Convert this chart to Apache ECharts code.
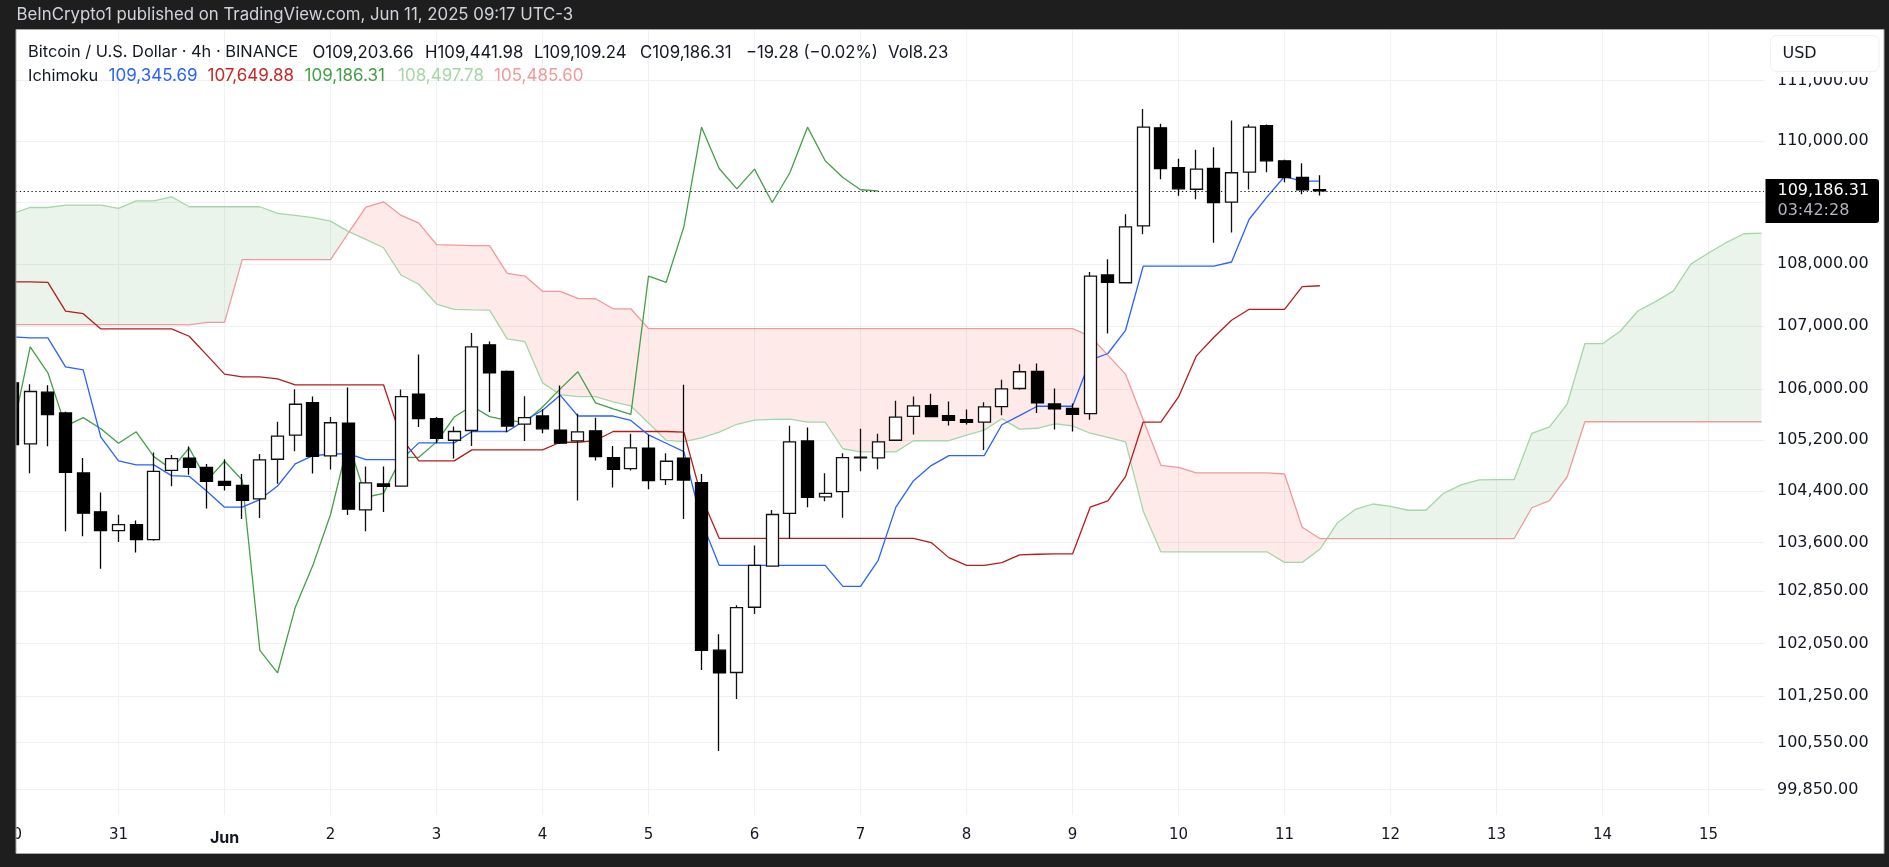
<!DOCTYPE html>
<html>
<head>
	<meta charset="utf-8" />
	<title>BTC/USD 4h Ichimoku</title>
	<style type="text/css">
	*{margin: 0;padding: 0;}
	html,body{background: #1e1e1e;}
	#chart{width: 1889px;height: 867px;}
	</style>
</head>
<body>
<div id="chart"></div>
<script src="https://cdn.jsdelivr.net/npm/echarts@6/dist/echarts.min.js"></script>
<script type="text/javascript">
	// every array starts at bar index -6, bar 0 is the "31" gridline, 6 bars a day
	var firstBar = -6;
	var candleOpen = [106100,105137,105952,105624,104682,104077,103784,103877,103646,104724,104912,104771,104551,104489,104277,104897,105274,105788,104949,105465,104108,104510,104478,105920,105534,105195,105348,106704,106281,105449,105576,105354,105184,105343,104923,104750,105069,104578,104912,104531,101949,101609,102604,103237,104051,105184,104308,104390,104918,104918,105195,105571,105740,105581,105518,105480,105724,106011,106281,105767,105698,105613,107823,107698,108616,110219,109563,109212,109551,109001,109490,110252,109677,109404,109203.66];
	var candleClose = [105127,105963,105597,104693,104056,103784,103877,103646,104708,104907,104771,104551,104489,104256,104886,105258,105762,104944,105470,104118,104526,104473,105883,105534,105226,105332,106672,106260,105417,105550,105375,105148,105327,104938,104740,105074,104562,104865,104572,101944,101602,102599,103248,104035,105169,104303,104364,104923,104928,105169,105560,105735,105566,105507,105475,105719,106005,106276,105783,105688,105603,107806,107705,108600,110229,109551,109219,109540,108996,109481,110229,109677,109404,109204,109186.31];
	var candleLow = [105000,104677,105101,103774,103697,103197,103610,103445,103626,104473,104656,104128,104410,103964,103979,104515,105022,104672,104735,104026,103774,104072,104478,105401,105148,104907,105106,105640,105322,105184,105306,105137,104251,104876,104457,104719,104426,104494,103964,101647,100426,101209,102501,103233,103661,104149,104241,103984,104708,104740,105184,105285,105560,105428,105444,105043,105587,105989,105624,105364,105332,105518,106884,107690,108480,109376,109105,109049,108345,108507,109207,109490,109327,109130,109109.24];
	var candleHigh = [106180,106079,106063,105645,104918,104379,104031,103943,105001,104965,105095,104823,104897,104666,104980,105486,106000,105883,105560,106026,104782,104782,105995,106550,105560,105411,106894,106757,106296,105889,105682,106058,105613,105550,105106,105295,105279,104991,106070,104666,102193,102635,103554,104103,105422,105396,104677,104991,105375,105295,105815,105883,105926,105804,105677,105793,106148,106397,106408,106011,105772,107871,108075,108805,110530,110285,109710,109857,109900,110340,110274,110274,109694,109638,109441.98];
	var tenkan = [106831,106815,106815,106354,106307,105242,104871,104808,104808,104641,104630,104395,104149,104149,104267,104478,104823,104954,104975,104986,104891,104891,104891,105153,105153,105153,105332,105332,105332,105507,105666,105905,105576,105576,105576,105507,105279,105148,105017,103928,103248,103248,103248,103248,103248,103248,103248,102923,102923,103326,104149,104562,104797,104954,104954,104954,105438,105581,105730,105730,105730,106460,106566,106936,107964,107964,107964,107964,107964,108032,108724,109083,109420,109343,109345.69];
	var kijun = [107713,107713,107703,107243,107201,106958,106958,106958,106958,106958,106841,106540,106238,106196,106196,106164,106069,106069,106069,106069,106069,106069,105232,104871,104871,104871,105043,105043,105043,105043,105043,105163,105163,105190,105332,105332,105332,105332,105322,104303,103666,103666,103666,103666,103666,103666,103666,103666,103666,103666,103666,103666,103600,103367,103248,103248,103290,103409,103419,103424,103424,104149,104246,104625,105481,105481,105878,106524,106825,107097,107272,107272,107272,107635,107649.88];
	var chikou = [105332,106672,106260,105417,105550,105375,105148,105327,104938,104740,105074,104562,104865,104572,101944,101602,102599,103248,104035,105169,104303,104364,104923,104928,105169,105560,105735,105566,105507,105475,105719,106005,106276,105783,105688,105603,107806,107705,108600,110229,109551,109219,109540,108996,109481,110229,109677,109404,109204,109186.31];
	var senkouA = [108813,108915,108915,108953,108953,108953,108899,109024,109024,109089,108927,108927,108927,108927,108927,108818,108786,108749,108694,108527,108397,108262,107818,107673,107356,107272,107264,107259,106798,106754,106100,105915,105883,105883,105800,105735,105467,105194,105172,105232,105321,105446,105512,105522,105527,105480,105480,105061,105012,105012,105012,105187,105187,105187,105275,105354,105534,105369,105383,105454,105420,105305,105240,105170,104090,103457,103457,103457,103457,103457,103457,103457,103294,103294,103496,103907,104114,104198,104160,104101,104101,104364,104495,104575,104577,104577,105304,105406,105765,106722,106722,106921,107244,107394,107564,107998,108177,108346,108489,108497.78];
	var senkouB = [107026,107026,107026,107026,107026,107026,107026,107026,107026,107026,107021,107063,107063,108070,108070,108070,108070,108070,108070,108497,108920,109008,108786,108662,108312,108306,108295,108295,107850,107806,107560,107560,107447,107441,107280,107280,106963,106963,106963,106963,106963,106963,106963,106963,106963,106963,106963,106963,106963,106963,106963,106963,106963,106963,106963,106963,106963,106963,106963,106963,106963,106841,106540,106238,105517,104802,104771,104682,104682,104682,104682,104682,104666,103836,103662,103662,103662,103662,103662,103662,103662,103662,103662,103662,103662,103662,104140,104250,104623,105485.6,105485.6,105485.6,105485.6,105485.6,105485.6,105485.6,105485.6,105485.6,105485.6,105485.6];
	var lastPrice = 109186.31;

	var dayBars = [-6,0,6,12,18,24,30,36,42,48,54,60,66,72,78,84,90];
	var dayLabels = ['30','31','Jun','2','3','4','5','6','7','8','9','10','11','12','13','14','15'];
	var priceTicks = [111000,110000,109000,108000,107000,106000,105200,104400,103600,102850,102050,101250,100550,99850];

	var headerLine1 = [
		['Bitcoin / U.S. Dollar · 4h · BINANCE', 28, '#131722', 16.4],
		['O109,203.66', 312.5, '#131722', 16.8],
		['H109,441.98', 425, '#131722', 16.8],
		['L109,109.24', 534, '#131722', 16.8],
		['C109,186.31', 640, '#131722', 16.8],
		['−19.28 (−0.02%)', 746, '#131722', 16.6],
		['Vol8.23', 888, '#131722', 16.8]
	];
	var headerLine2 = [
		['Ichimoku', 28, '#131722', 16.4],
		['109,345.69', 108.5, '#2962FF', 17],
		['107,649.88', 207.5, '#C62828', 17],
		['109,186.31', 304.5, '#43A047', 17],
		['108,497.78', 398, '#A5D6A7', 17],
		['105,485.60', 494, '#EF9A9A', 17]
	];

	var FONT = 'Inter, "Noto Sans", sans-serif';
	var SCALE_FONT = '"DejaVu Sans", sans-serif';

	function withBars(arr) {
		return arr.map(function(v, k) { return [k + firstBar, v]; });
	}

	// cloud between the two senkou spans, one polygon per green/red stretch
	function renderCloud(params, api) {
		var children = [], upper = [], lower = [], rising = senkouA[0] >= senkouB[0];
		function flush() {
			children.push({
				type: 'polygon',
				shape: {points: upper.concat(lower.slice().reverse())},
				style: {fill: rising ? 'rgba(67,160,71,0.115)' : 'rgba(244,67,54,0.115)'},
				silent: true
			});
			upper = [];
			lower = [];
		}
		for (var k = 0; k < senkouA.length; k++) {
			var a = api.coord([k + firstBar, senkouA[k]]);
			var b = api.coord([k + firstBar, senkouB[k]]);
			var nowRising = senkouA[k] >= senkouB[k];
			if (k > 0 && nowRising != rising) {
				var pa = upper[upper.length - 1], pb = lower[lower.length - 1];
				var d0 = pa[1] - pb[1], d1 = a[1] - b[1];
				var t = d0 / (d0 - d1);
				var cross = [pa[0] + (a[0] - pa[0]) * t, pa[1] + (a[1] - pa[1]) * t];
				upper.push(cross);
				lower.push(cross);
				flush();
				upper.push(cross);
				lower.push(cross);
				rising = nowRising;
			}
			upper.push(a);
			lower.push(b);
		}
		flush();
		return {type: 'group', children: children};
	}

	function lineSeries(name, arr, color, z) {
		return {
			name: name,
			type: 'line',
			data: withBars(arr),
			showSymbol: false,
			silent: true,
			z: z,
			lineStyle: {color: color, width: 1.3}
		};
	}

	function textEl(text, x, y, color, size, family) {
		return {
			type: 'text',
			z: 110,
			silent: true,
			style: {text: text, x: x, y: y, fill: color, font: 'normal ' + size + 'px ' + (family || FONT), textVerticalAlign: 'middle'}
		};
	}

	function rectEl(x, y, w, h, fill, z, r, stroke) {
		return {
			type: 'rect',
			z: z,
			silent: true,
			shape: {x: x, y: y, width: w, height: h, r: r || 0},
			style: {fill: fill, stroke: stroke || null, lineWidth: stroke ? 1 : 0}
		};
	}

	var graphics = [
		// masks the top axis label, then the dark frame round the panel
		rectEl(1765, 30, 119, 47, '#ffffff', 100),
		rectEl(1770.5, 35.5, 108.5, 36, '#ffffff', 101, 6, '#eef0f3'),
		rectEl(1765.5, 179, 113.5, 44, '#000000', 101, [0, 3, 3, 0]),
		rectEl(0, 0, 1889, 30, '#1e1e1e', 105),
		rectEl(0, 853, 1889, 14, '#1e1e1e', 105),
		rectEl(0, 0, 16, 867, '#1e1e1e', 105),
		rectEl(1884, 0, 5, 867, '#1e1e1e', 105),
		rectEl(16, 29.5, 1868, 824, 'transparent', 106, 0, '#a8a8a8'),
		textEl('BeInCrypto1 published on TradingView.com, Jun 11, 2025 09:17 UTC-3', 16.5, 15, '#d1d4dc', 16.8),
		textEl('USD', 1782.5, 53.5, '#131722', 16, SCALE_FONT),
		textEl('109,186.31', 1777.5, 191, '#ffffff', 16, SCALE_FONT),
		textEl('03:42:28', 1777.5, 210.5, '#b2b5bd', 16, SCALE_FONT)
	];
	headerLine1.forEach(function(h) { graphics.push(textEl(h[0], h[1], 52.5, h[2], h[3])); });
	headerLine2.forEach(function(h) { graphics.push(textEl(h[0], h[1], 76, h[2], h[3])); });

	var option = {
		backgroundColor: '#ffffff',
		animation: false,
		grid: {left: 0, right: 125, top: 30, bottom: 52},
		xAxis: {
			type: 'value',
			min: -6.695,
			max: 93.14,
			axisLine: {show: false},
			axisTick: {show: false, customValues: dayBars},
			splitLine: {show: true, lineStyle: {color: '#f0f1f3', width: 1}},
			axisLabel: {
				customValues: dayBars,
				margin: 13,
				color: '#131722',
				fontFamily: SCALE_FONT,
				fontSize: 15,
				formatter: function(v) {
					var s = dayLabels[dayBars.indexOf(v)];
					return s == 'Jun' ? '{b|Jun}' : s;
				},
				rich: {b: {fontWeight: 'bold', fontFamily: FONT, fontSize: 16, color: '#131722', padding: [2, 0, 0, 0]}}
			}
		},
		yAxis: {
			type: 'log',
			position: 'right',
			min: 99470,
			max: 111840,
			axisLine: {show: false},
			axisTick: {show: false, customValues: priceTicks},
			splitLine: {show: true, lineStyle: {color: '#f0f1f3', width: 1.2}},
			axisLabel: {
				customValues: priceTicks,
				margin: 13,
				padding: [2, 0, 0, 0],
				color: '#131722',
				fontFamily: SCALE_FONT,
				fontSize: 16,
				formatter: function(v) {
					return Number(v).toLocaleString('en-US', {minimumFractionDigits: 2, maximumFractionDigits: 2});
				}
			}
		},
		series: [
			{
				type: 'custom',
				renderItem: renderCloud,
				data: [[firstBar, senkouA[0]]],
				encode: {x: 0, y: 1},
				silent: true,
				z: 1
			},
			lineSeries('Senkou A', senkouA, '#A5D6A7', 2),
			lineSeries('Senkou B', senkouB, '#EF9A9A', 2),
			lineSeries('Chikou', chikou, '#43A047', 3),
			lineSeries('Kijun', kijun, '#B71C1C', 3),
			lineSeries('Tenkan', tenkan, '#2962FF', 3),
			{
				type: 'candlestick',
				data: candleOpen.map(function(o, k) {
					return [k + firstBar, o, candleClose[k], candleLow[k], candleHigh[k]];
				}),
				barWidth: 12.6,
				silent: true,
				z: 5,
				itemStyle: {color: '#ffffff', color0: '#000000', borderColor: '#111111', borderColor0: '#000000', borderWidth: 1.3},
				markLine: {
					silent: true,
					symbol: 'none',
					label: {show: false},
					lineStyle: {color: '#131722', type: [1.3, 2.6], width: 1.2},
					data: [{yAxis: lastPrice}]
				}
			}
		],
		graphic: {elements: graphics}
	};

	var chart = echarts.init(document.getElementById('chart'));
	chart.setOption(option);
</script>
</body>
</html>
